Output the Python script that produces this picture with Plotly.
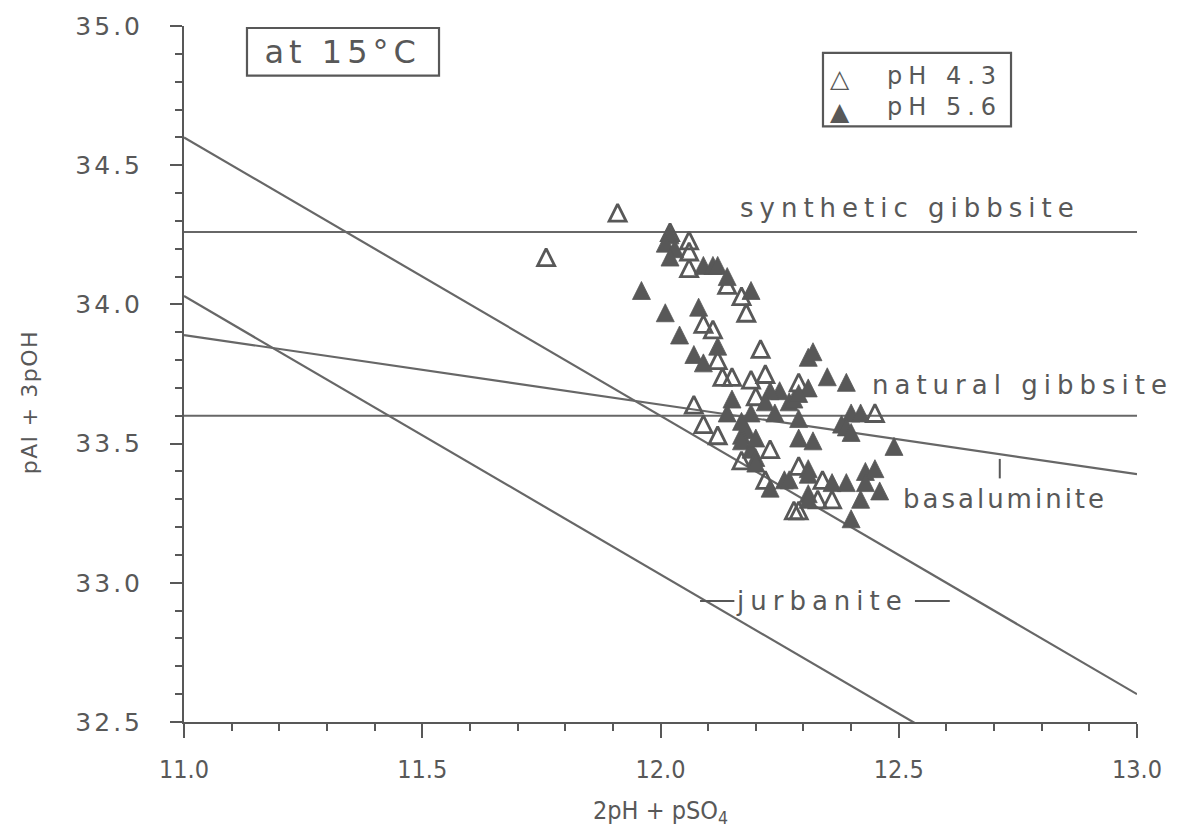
import plotly.graph_objects as go

# Stability lines: y value at each end of the x range
line_x = [11.0, 13.0]
synthetic_gibbsite = [34.26, 34.26]
natural_gibbsite = [33.60, 33.60]
basaluminite = [33.89, 33.39]
jurbanite_upper = [34.60, 32.60]
jurbanite_lower = [34.03, 32.03]

# Soil solutions, pH 4.3 treatment (open triangles)
ph43_x = [11.91, 11.76, 12.02, 12.06, 12.06, 12.06, 12.14, 12.17, 12.18, 12.09,
          12.11, 12.12, 12.13, 12.15, 12.19, 12.22, 12.21, 12.29, 12.20, 12.07,
          12.09, 12.12, 12.23, 12.17, 12.29, 12.22, 12.34, 12.33, 12.36, 12.28,
          12.29, 12.45]
ph43_y = [34.33, 34.17, 34.26, 34.23, 34.19, 34.13, 34.07, 34.03, 33.97, 33.93,
          33.91, 33.80, 33.74, 33.74, 33.73, 33.75, 33.84, 33.72, 33.67, 33.64,
          33.57, 33.53, 33.48, 33.44, 33.42, 33.37, 33.37, 33.30, 33.30, 33.26,
          33.26, 33.61]

# Soil solutions, pH 5.6 treatment (filled triangles)
ph56_x = [12.02, 12.01, 12.03, 12.02, 12.09, 12.11, 12.12, 12.14, 12.19, 11.96,
          12.01, 12.08, 12.04, 12.12, 12.07, 12.09, 12.31, 12.32, 12.35, 12.39,
          12.31, 12.25, 12.23, 12.22, 12.27, 12.28, 12.29, 12.15, 12.14, 12.19,
          12.24, 12.29, 12.40, 12.42, 12.38, 12.39, 12.40, 12.18, 12.17, 12.17,
          12.19, 12.29, 12.32, 12.49, 12.20, 12.20, 12.31, 12.31, 12.43, 12.45,
          12.26, 12.27, 12.23, 12.36, 12.39, 12.43, 12.46, 12.31, 12.31, 12.42,
          12.40, 12.17, 12.20]
ph56_y = [34.25, 34.22, 34.20, 34.17, 34.14, 34.14, 34.14, 34.10, 34.05, 34.05,
          33.97, 33.99, 33.89, 33.85, 33.82, 33.79, 33.81, 33.83, 33.74, 33.72,
          33.70, 33.69, 33.69, 33.65, 33.65, 33.66, 33.68, 33.66, 33.61, 33.61,
          33.61, 33.59, 33.61, 33.61, 33.57, 33.56, 33.54, 33.55, 33.53, 33.51,
          33.48, 33.52, 33.51, 33.49, 33.45, 33.43, 33.41, 33.39, 33.40, 33.41,
          33.37, 33.37, 33.34, 33.36, 33.36, 33.36, 33.33, 33.32, 33.30, 33.30,
          33.23, 33.58, 33.52]

x_range = [11.0, 13.0]
y_range = [32.5, 35.0]

INK = "#585858"
LINE = "#676767"
FONT = "DejaVu Sans"
FONT_NARROW = "DejaVu Sans Condensed, DejaVu Sans"

fig = go.Figure()

for ys in (synthetic_gibbsite, natural_gibbsite, basaluminite,
           jurbanite_upper, jurbanite_lower):
    fig.add_trace(go.Scatter(x=line_x, y=ys, mode="lines",
                             line=dict(color=LINE, width=2.2),
                             hoverinfo="skip", showlegend=False))

# upward triangles, centred on the point
MS_OPEN, MS_FILL = 17, 18
fig.add_trace(go.Scatter(
    x=ph43_x, y=ph43_y, mode="markers", name="pH 4.3", showlegend=False,
    marker=dict(symbol="arrow-down-open", angle=180, standoff=MS_OPEN / 2,
                size=MS_OPEN, color=INK, line=dict(color=INK, width=2.8))))
fig.add_trace(go.Scatter(
    x=ph56_x, y=ph56_y, mode="markers", name="pH 5.6", showlegend=False,
    marker=dict(symbol="arrow-down", angle=180, standoff=MS_FILL / 2,
                size=MS_FILL, color=INK, line=dict(color=INK, width=0.8))))

fig.update_xaxes(range=x_range, tickmode="linear", tick0=11.0, dtick=0.5,
                 tickformat=".1f", ticks="outside", ticklen=14, tickwidth=2,
                 tickcolor=INK, showline=True, linewidth=2, linecolor=INK,
                 showgrid=False, zeroline=False,
                 tickfont=dict(family=FONT_NARROW, size=25, color=INK),
                 ticklabelstandoff=10,
                 minor=dict(tickmode="linear", tick0=11.0, dtick=0.1,
                            ticks="outside", ticklen=7, tickwidth=2,
                            tickcolor=INK, showgrid=False))
fig.update_yaxes(range=y_range, tickmode="linear", tick0=32.5, dtick=0.5,
                 tickformat=".1f", ticks="outside", ticklen=12, tickwidth=2,
                 tickcolor=INK, showline=True, linewidth=2, linecolor=INK,
                 showgrid=False, zeroline=False,
                 tickfont=dict(family=FONT, size=25, color=INK),
                 ticklabelstandoff=22,
                 minor=dict(tickmode="linear", tick0=32.5, dtick=0.1,
                            ticks="outside", ticklen=7, tickwidth=2,
                            tickcolor=INK, showgrid=False))

ann_font = dict(family=FONT, size=26, color=INK)
annotations = [
    dict(x=12.163, y=34.345, text="synthetic gibbsite", xanchor="left",
         align="left", yanchor="middle", font=ann_font),
    dict(x=12.44, y=33.71, text="natural gibbsite", xanchor="left",
         align="left", yanchor="middle", font=ann_font),
    dict(x=12.505, y=33.30, text="basaluminite", xanchor="left",
         align="left", yanchor="middle", font=ann_font),
    dict(x=12.339, y=32.935, text="jurbanite", xanchor="center",
         yanchor="middle", font=ann_font),
]
for a in annotations:
    a.update(xref="x", yref="y", showarrow=False)

# panel label, legend entries and axis titles
annotations += [
    dict(xref="paper", yref="paper", x=0.1668, y=0.9629, text="at 15°C",
         showarrow=False, xanchor="center", yanchor="middle",
         font=dict(family=FONT, size=32, color=INK)),
    dict(xref="paper", yref="paper", x=0.6884, y=0.9243, text="△",
         showarrow=False, xanchor="center", yanchor="middle",
         font=dict(family=FONT, size=25, color=INK, weight="bold")),
    dict(xref="paper", yref="paper", x=0.6884, y=0.8771, text="▲",
         showarrow=False, xanchor="center", yanchor="middle",
         font=dict(family=FONT, size=25, color=INK)),
    dict(xref="paper", yref="paper", x=0.7356, y=0.9286, text="pH 4.3",
         showarrow=False, xanchor="left", align="left", yanchor="middle",
         font=dict(family=FONT, size=24, color=INK)),
    dict(xref="paper", yref="paper", x=0.7356, y=0.8843, text="pH 5.6",
         showarrow=False, xanchor="left", align="left", yanchor="middle",
         font=dict(family=FONT, size=24, color=INK)),
    dict(xref="paper", yref="paper", x=0.5, y=-0.1286,
         text="2pH + pSO<sub>4</sub>", showarrow=False,
         xanchor="center", yanchor="middle",
         font=dict(family=FONT_NARROW, size=25, color=INK)),
    dict(xref="paper", yref="paper", x=-0.1616, y=0.46, text="pAl + 3pOH",
         textangle=-90, showarrow=False, xanchor="center", yanchor="middle",
         font=dict(family=FONT, size=22, color=INK)),
]

shapes = [
    # boxes around the panel label and the key
    dict(type="rect", xref="paper", yref="paper", x0=0.0661, x1=0.2676,
         y0=0.9286, y1=0.9971, line=dict(color=INK, width=2.2)),
    dict(type="rect", xref="paper", yref="paper", x0=0.6705, x1=0.8678,
         y0=0.8557, y1=0.9614, line=dict(color=INK, width=2.2)),
    # leader marks for the line labels
    dict(type="line", xref="x", yref="y", x0=12.083, x1=12.155,
         y0=32.935, y1=32.935, line=dict(color=INK, width=2)),
    dict(type="line", xref="x", yref="y", x0=12.534, x1=12.607,
         y0=32.935, y1=32.935, line=dict(color=INK, width=2)),
    dict(type="line", xref="x", yref="y", x0=12.712, x1=12.712,
         y0=33.445, y1=33.375, line=dict(color=INK, width=2)),
]

fig.update_layout(
    width=1177, height=835,
    margin=dict(l=184, r=40, t=22, b=113),
    paper_bgcolor="white", plot_bgcolor="white",
    showlegend=False,
    annotations=annotations, shapes=shapes,
    font=dict(family=FONT, color=INK),
)

# the plotter lettering is very wide: open up the tracking
post_js = r"""
var gd = document.getElementById('{plot_id}');
function widen() {
  gd.querySelectorAll('.ytick text').forEach(function (t) { t.style.letterSpacing = '3px'; });
  gd.querySelectorAll('.annotation-text').forEach(function (t) {
    var s = t.textContent, ls = '6px';
    if (s.indexOf('2pH') === 0) ls = '0px';
    else if (s.indexOf('pAl') === 0) ls = '1.5px';
    else if (s.indexOf('at') === 0) ls = '5px';
    else if (s.indexOf('pH') === 0) ls = '6px';
    else if (s.indexOf('basal') === 0) ls = '3px';
    else if (s.length === 1) ls = '0px';
    t.style.letterSpacing = ls;
  });
}
widen();
gd.on('plotly_afterplot', widen);
"""

fig.write_html("out.html", post_script=post_js)
